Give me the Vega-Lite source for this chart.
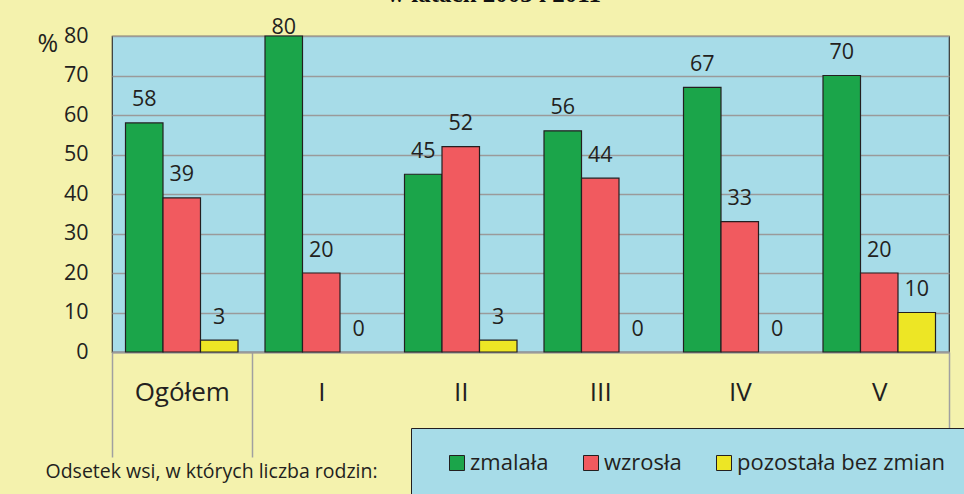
{
  "$schema": "https://vega.github.io/schema/vega-lite/v6.json",
  "width": 837,
  "height": 316,
  "autosize": {"type": "none"},
  "padding": {"left": 112, "top": 36, "right": 15, "bottom": 142},
  "background": "#F4F2AD",
  "title": {"text": "w latach 2003 i 2011", "font": "Liberation Serif", "fontSize": 25, "fontWeight": "bold", "color": "#111111", "anchor": "start", "frame": "group", "dx": 275, "dy": 9.5, "baseline": "alphabetic", "offset": 0},
  "config": {
    "view": {"fill": "#A7DCE8", "stroke": "#333333", "strokeWidth": 1.2}
  },
  "data": {
    "values": [
      {"kat": "Ogółem", "seria": "zmalała", "val": 58},
      {"kat": "Ogółem", "seria": "wzrosła", "val": 39},
      {"kat": "Ogółem", "seria": "pozostała bez zmian", "val": 3},
      {"kat": "I", "seria": "zmalała", "val": 80},
      {"kat": "I", "seria": "wzrosła", "val": 20},
      {"kat": "I", "seria": "pozostała bez zmian", "val": 0},
      {"kat": "II", "seria": "zmalała", "val": 45},
      {"kat": "II", "seria": "wzrosła", "val": 52},
      {"kat": "II", "seria": "pozostała bez zmian", "val": 3},
      {"kat": "III", "seria": "zmalała", "val": 56},
      {"kat": "III", "seria": "wzrosła", "val": 44},
      {"kat": "III", "seria": "pozostała bez zmian", "val": 0},
      {"kat": "IV", "seria": "zmalała", "val": 67},
      {"kat": "IV", "seria": "wzrosła", "val": 33},
      {"kat": "IV", "seria": "pozostała bez zmian", "val": 0},
      {"kat": "V", "seria": "zmalała", "val": 70},
      {"kat": "V", "seria": "wzrosła", "val": 20},
      {"kat": "V", "seria": "pozostała bez zmian", "val": 10}
    ]
  },
  "encoding": {
    "x": {
      "field": "kat", "type": "nominal",
      "sort": ["Ogółem", "I", "II", "III", "IV", "V"],
      "scale": {"paddingInner": 0, "paddingOuter": 0},
      "axis": {
        "title": "Odsetek wsi, w których liczba rodzin:",
        "titleFont": "Open Sans", "titleFontSize": 19.5, "titleFontWeight": "normal", "titleColor": "#231F20",
        "titleAnchor": "start", "titleAlign": "left", "titleX": -67, "titleY": 125, "titleBaseline": "alphabetic",
        "labelAngle": 0, "labelFont": "Open Sans", "labelFontSize": 26, "labelColor": "#231F20",
        "labelBaseline": "alphabetic", "labelPadding": -57,
        "ticks": true, "tickBand": "extent", "tickSize": 105, "tickWidth": 1.5,
        "tickColor": {"condition": {"test": "datum.value === 'I' || datum.value === 'II' || datum.value === 'III' || datum.value === 'IV'", "value": "transparent"}, "value": "#A0A0A0"},
        "domainColor": "#9A9A9A", "domainWidth": 2, "grid": false
      }
    },
    "xOffset": {
      "field": "seria", "type": "nominal",
      "sort": ["zmalała", "wzrosła", "pozostała bez zmian"],
      "scale": {"paddingInner": 0, "paddingOuter": 0.36}
    },
    "y": {
      "field": "val", "type": "quantitative",
      "scale": {"domain": [0, 80], "nice": false},
      "axis": {
        "title": "%", "titleAngle": 0, "titleX": -75, "titleY": 15, "titleAlign": "left", "titleBaseline": "alphabetic",
        "titleFont": "Open Sans", "titleFontSize": 25, "titleFontWeight": "normal", "titleColor": "#231F20",
        "labelFont": "Open Sans", "labelFontSize": 21.5, "labelColor": "#231F20", "labelPadding": 24,
        "ticks": false, "domain": false, "values": [0, 10, 20, 30, 40, 50, 60, 70, 80],
        "gridColor": "#9A9A9A", "gridWidth": 1.5
      }
    }
  },
  "layer": [
    {
      "transform": [{"filter": "datum.val > 0"}],
      "mark": {"type": "bar", "stroke": "#231F20", "strokeWidth": 1.2, "opacity": 1},
      "encoding": {
        "color": {
          "field": "seria", "type": "nominal",
          "scale": {"domain": ["zmalała", "wzrosła", "pozostała bez zmian"], "range": ["#1BA54A", "#F15A5F", "#EDE625"]},
          "legend": {
            "title": null, "orient": "none", "legendX": 299, "legendY": 392, "direction": "horizontal",
            "fillColor": "#A7DCE8", "strokeColor": "#231F20", "padding": 24,
            "symbolType": "square", "symbolSize": 225, "symbolStrokeColor": "#231F20", "symbolStrokeWidth": 1,
            "symbolOpacity": 1, "symbolOffset": 11,
            "labelFont": "Open Sans", "labelFontSize": 22, "labelColor": "#231F20", "labelOffset": 2,
            "columnPadding": 20, "labelLimit": 400
          }
        }
      }
    },
    {
      "transform": [{"filter": "datum.val < 80"}],
      "mark": {"type": "text", "font": "Open Sans", "fontSize": 21.5, "baseline": "alphabetic", "dy": -16.5, "color": "#231F20"},
      "encoding": {"text": {"field": "val", "type": "quantitative"}}
    },
    {
      "transform": [{"filter": "datum.val >= 80"}],
      "mark": {"type": "text", "font": "Open Sans", "fontSize": 21.5, "baseline": "alphabetic", "dy": -2, "color": "#231F20"},
      "encoding": {"text": {"field": "val", "type": "quantitative"}}
    }
  ]
}
